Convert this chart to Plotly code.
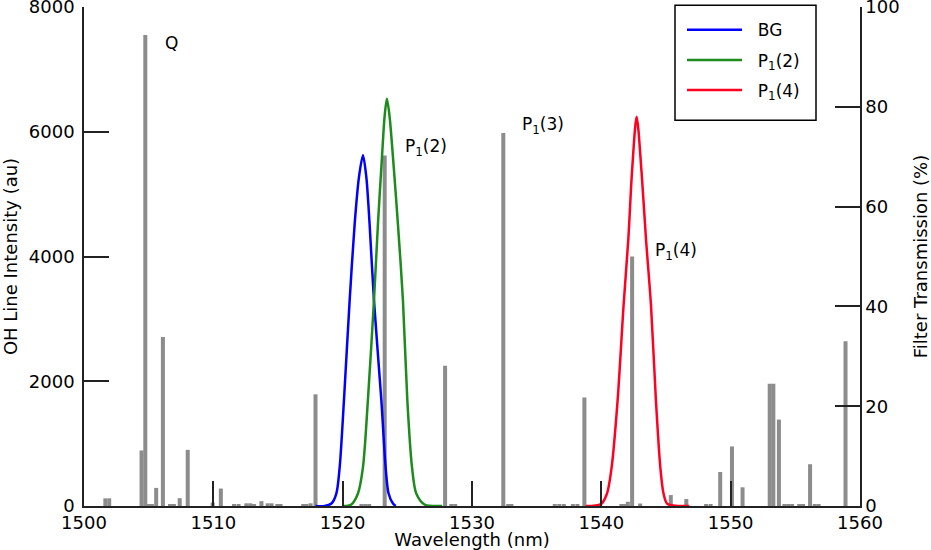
import plotly.graph_objects as go

# ---- OH line spectrum (left axis) ----
line_nm = [1501.65, 1501.95, 1504.45, 1504.74, 1505.0, 1505.25, 1505.58, 1506.1,
           1506.65, 1506.95, 1507.4, 1508.02, 1509.95, 1510.58, 1511.6, 1511.95,
           1512.55, 1512.85, 1513.15, 1513.72, 1514.2, 1514.5, 1514.95, 1515.2,
           1516.95, 1517.2, 1517.52, 1517.9, 1521.45, 1521.75, 1522.05, 1523.25,
           1527.92, 1528.4, 1528.7, 1532.42, 1532.8, 1533.05, 1536.4, 1536.75,
           1537.1, 1537.8, 1538.15, 1538.69, 1541.55, 1541.8, 1542.05, 1542.38,
           1543.0, 1545.37, 1546.57, 1548.1, 1548.45, 1549.19, 1550.1, 1550.92,
           1553.02, 1553.3, 1553.73, 1554.15, 1554.45, 1554.75, 1555.3, 1555.6,
           1556.14, 1556.5, 1556.8, 1558.88]
line_intensity = [123, 123, 890, 7550, 25, 25, 290, 2710,
                  25, 25, 125, 900, 55, 280, 25, 25,
                  43, 43, 25, 78, 43, 43, 25, 25,
                  25, 25, 43, 1790, 22, 22, 22, 5620,
                  2250, 25, 25, 5980, 25, 25, 25, 25,
                  25, 25, 25, 1740, 25, 25, 68, 4000,
                  40, 175, 112, 20, 20, 545, 955, 300,
                  1960, 1960, 1385, 20, 20, 20, 20, 20,
                  670, 20, 20, 2640]

# ---- Filter transmission curves (right axis, %) ----
bg_nm = [1517.9, 1518.6, 1519.13, 1519.51, 1519.77, 1520.1, 1520.54, 1520.93, 1521.26,
         1521.57, 1521.83, 1522.08, 1522.42, 1522.99, 1523.32, 1523.55, 1523.89, 1524.1]
bg_T = [0, 0, 0.5, 2.5, 7.8, 21.2, 41.2, 56.6, 65.9,
        70.3, 65.9, 56.6, 41.2, 21.2, 7.8, 2.5, 0.5, 0]

p12_nm = [1520.0, 1520.67, 1521.18, 1521.57, 1521.95, 1522.42, 1522.73, 1523.04, 1523.24,
          1523.42, 1523.63, 1523.89, 1524.27, 1524.66, 1525.0, 1525.36, 1525.69, 1526.33, 1527.7]
p12_T = [0, 0.3, 2.5, 7.8, 21.2, 41.2, 56.6, 69.9, 78.0,
         81.6, 78.0, 69.9, 56.6, 41.2, 21.2, 7.8, 2.5, 0.3, 0]

p14_nm = [1538.8, 1539.98, 1540.44, 1540.8, 1541.26, 1541.72, 1542.09, 1542.37,
          1542.73, 1543.11, 1543.45, 1543.84, 1544.22, 1544.56, 1544.81, 1545.12, 1546.8]
p14_T = [0, 0.4, 2.5, 7.8, 21.2, 40.2, 53.6, 66.9,
         78.0, 66.9, 53.6, 40.2, 21.2, 7.8, 2.5, 0.4, 0]

x_ticks = [1500, 1510, 1520, 1530, 1540, 1550, 1560]
left_ticks = [0, 2000, 4000, 6000, 8000]
right_ticks = [0, 20, 40, 60, 80, 100]

label_text = ["Q", "P<sub>1</sub>(2)", "P<sub>1</sub>(3)", "P<sub>1</sub>(4)"]
label_nm = [1506.8, 1524.7, 1533.7, 1544.0]
label_val = [7430, 5750, 6100, 4080]

FONT = "DejaVu Sans"
AX = "#222222"
NB = "\u00a0\u00a0"

fig = go.Figure()
fig.add_trace(go.Bar(x=line_nm, y=line_intensity, width=0.31,
                     marker=dict(color="#8c8c8c", line=dict(width=0)),
                     showlegend=False, yaxis="y"))

curves = [("BG", bg_nm, bg_T, "#0000ff"),
          ("P<sub>1</sub>(2)", p12_nm, p12_T, "#1c8c1c"),
          ("P<sub>1</sub>(4)", p14_nm, p14_T, "#ff0020")]
for i, (name, xs, ys, col) in enumerate(curves):
    fig.add_trace(go.Scatter(x=xs, y=ys, name=NB + name, mode="lines", yaxis="y2",
                             line=dict(color=col, width=2.5, shape="spline", smoothing=0.8),
                             legendgroup="g%d" % i))

for t, xv, yv in zip(label_text, label_nm, label_val):
    fig.add_annotation(x=xv, y=yv, xref="x", yref="y", text=t, showarrow=False,
                       xanchor="left" if t != "Q" else "center", yanchor="middle",
                       font=dict(family=FONT, size=17, color="black"))

# legend frame
fig.add_shape(type="rect", xref="paper", yref="paper",
              x0=(675 - 84) / 776, x1=(816 - 84) / 776,
              y0=(505.7 - 120) / 499, y1=(505.7 - 5) / 499,
              line=dict(color="black", width=1.5), fillcolor="white", layer="above")

axis_common = dict(showgrid=False, zeroline=False, showline=True, linecolor=AX,
                   linewidth=1.5, ticks="inside", ticklen=25, tickwidth=1.5,
                   tickcolor=AX, tickfont=dict(family=FONT, size=18, color="black"),
                   automargin=False, ticklabeloverflow="allow")

fig.update_layout(
    width=931, height=550,
    margin=dict(l=84, r=71, t=7, b=44),
    plot_bgcolor="white", paper_bgcolor="white",
    barmode="overlay",
    font=dict(family=FONT, size=18, color="black"),
    xaxis=dict(range=[1500, 1560], tickvals=x_ticks,
               title=dict(text="Wavelength (nm)", font=dict(family=FONT, size=18), standoff=0),
               **axis_common),
    yaxis=dict(range=[0, 8000], tickvals=left_ticks, ticklabelstandoff=4,
               title=dict(text="OH Line Intensity (au)", font=dict(family=FONT, size=18), standoff=10),
               **axis_common),
    yaxis2=dict(range=[0, 100], tickvals=right_ticks, overlaying="y", side="right",
                title=dict(text="Filter Transmission (%)", font=dict(family=FONT, size=18), standoff=16),
                **axis_common),
    legend=dict(x=(682 - 84) / 776, y=(505.7 - 12) / 499, xanchor="left", yanchor="top",
                bgcolor="rgba(0,0,0,0)", borderwidth=0,
                font=dict(family=FONT, size=17, color="black"),
                itemwidth=55, tracegroupgap=5),
)

fig.write_html("out.html", config={"displayModeBar": False},
               post_script="document.body.style.margin='0';")
